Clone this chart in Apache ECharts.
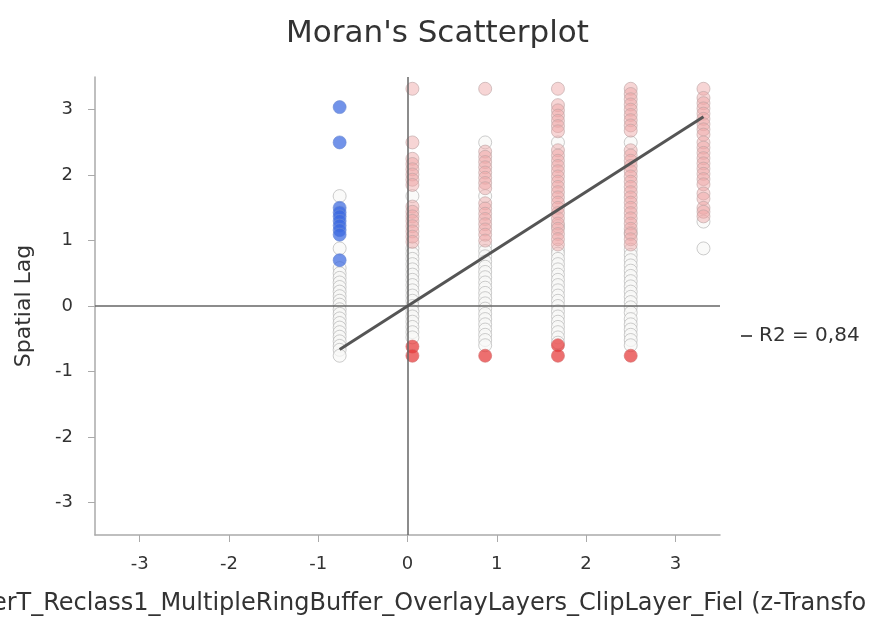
<!DOCTYPE html>
<html><head><meta charset="utf-8">
<script src="https://cdn.jsdelivr.net/npm/echarts@6/dist/echarts.min.js"></script>
<style>html,body{margin:0;padding:0;background:#fff}#c{width:875px;height:617px}</style>
</head><body><div id="c"></div>
<script>
const titleText = "Moran's Scatterplot";
const xName = "erT_Reclass1_MultipleRingBuffer_OverlayLayers_ClipLayer_Fiel (z-Transfo";
const yName = "Spatial Lag";
const legendName = "R2 = 0,84";
const xTicks = [-3, -2, -1, 0, 1, 2, 3];
const yTicks = [-3, -2, -1, 0, 1, 2, 3];
const xLevels = [-0.76, 0.055, 0.87, 1.685, 2.5, 3.315];

const notSigY = [
  [1.68, 0.88, 0.58, 0.5, 0.43, 0.36, 0.29, 0.22, 0.15, 0.08, 0.02, -0.05, -0.12, -0.19, -0.26, -0.33, -0.4, -0.47, -0.54, -0.61, -0.67, -0.76],
  [1.68, 0.88, 0.8, 0.72, 0.64, 0.56, 0.48, 0.4, 0.32, 0.24, 0.16, 0.08, 0.0, -0.08, -0.16, -0.24, -0.32, -0.4, -0.48],
  [2.5, 1.68, 0.92, 0.84, 0.76, 0.68, 0.6, 0.52, 0.44, 0.36, 0.28, 0.2, 0.12, 0.04, -0.04, -0.12, -0.2, -0.28, -0.36, -0.44, -0.52, -0.6],
  [2.5, 1.22, 0.86, 0.8, 0.72, 0.64, 0.56, 0.48, 0.4, 0.32, 0.24, 0.16, 0.08, 0.0, -0.08, -0.16, -0.24, -0.32, -0.4, -0.48, -0.56],
  [2.5, 1.12, 0.86, 0.78, 0.7, 0.62, 0.54, 0.46, 0.38, 0.3, 0.22, 0.14, 0.06, -0.02, -0.1, -0.2, -0.28, -0.36, -0.44, -0.52, -0.6],
  [1.29, 0.88]
];
const highHighY = [
  [],
  [3.32, 2.5, 2.25, 2.17, 2.09, 2.01, 1.93, 1.85, 1.52, 1.44, 1.37, 1.3, 1.22, 1.14, 1.06, 0.98],
  [3.32, 2.36, 2.28, 2.2, 2.12, 2.04, 1.96, 1.88, 1.8, 1.57, 1.49, 1.41, 1.33, 1.25, 1.17, 1.09, 1.0],
  [3.32, 3.07, 2.99, 2.91, 2.83, 2.75, 2.67, 2.38, 2.3, 2.22, 2.14, 2.06, 1.98, 1.9, 1.82, 1.74, 1.66, 1.58, 1.5, 1.42, 1.34, 1.26, 1.18, 1.1, 1.02, 0.94],
  [3.32, 3.24, 3.16, 3.08, 3.0, 2.92, 2.84, 2.76, 2.68, 2.38, 2.3, 2.22, 2.14, 2.06, 1.98, 1.9, 1.82, 1.74, 1.66, 1.58, 1.5, 1.42, 1.34, 1.26, 1.18, 1.1, 1.02, 0.94],
  [3.32, 3.18, 3.1, 3.02, 2.94, 2.86, 2.78, 2.7, 2.62, 2.5, 2.42, 2.34, 2.26, 2.18, 2.1, 2.02, 1.94, 1.86, 1.72, 1.64, 1.5, 1.44, 1.37]
];
const lowHighY = [
  [3.04, 2.5, 1.5, 1.43, 1.37, 1.3, 1.23, 1.16, 1.09, 0.7],
  [], [], [], [], []
];
const highLowY = [
  [],
  [-0.62, -0.76],
  [-0.76],
  [-0.6, -0.76],
  [-0.76],
  []
];
const regSlope = 0.873;
const regIntercept = 0.0;

function pts(cols) {
  const out = [];
  cols.forEach((ys, i) => ys.forEach(y => out.push([xLevels[i], y])));
  return out;
}
const xMinData = Math.min(...xLevels), xMaxData = Math.max(...xLevels);
const regData = [[xMinData, regIntercept + regSlope * xMinData], [xMaxData, regIntercept + regSlope * xMaxData]];

const FONT = 'DejaVu Sans';
const chart = echarts.init(document.getElementById('c'), null, {renderer: 'canvas'});
const sym = 13;
chart.setOption({
  animation: false,
  backgroundColor: '#fff',
  textStyle: {fontFamily: FONT},
  title: {text: titleText, left: 'center', top: 13,
    textStyle: {fontFamily: FONT, fontSize: 31, fontWeight: 'normal', color: '#333'}},
  legend: {data: [legendName], orient: 'vertical', left: 736, top: 321, icon: 'rect',
    itemWidth: 11, itemHeight: 2, itemGap: 5,
    textStyle: {fontFamily: FONT, fontSize: 20, color: '#333', padding: [0, 0, 0, 2]}},
  grid: {left: 95, right: 155, top: 77, bottom: 82, containLabel: false, outerBoundsMode: 'none'},
  xAxis: {type: 'value', min: -3.5, max: 3.5,
    name: xName, nameLocation: 'middle', nameGap: 57,
    nameTextStyle: {fontFamily: FONT, fontSize: 24, color: '#333', padding: [0, 0, 0, 43]},
    axisLine: {show: true, onZero: false, lineStyle: {color: '#aaa', width: 1.5}},
    axisTick: {show: true, customValues: xTicks, length: 7, lineStyle: {color: '#aaa'}},
    axisLabel: {customValues: xTicks, fontFamily: FONT, fontSize: 18, color: '#333', margin: 20},
    splitLine: {show: false}},
  yAxis: {type: 'value', min: -3.5, max: 3.5,
    name: yName, nameLocation: 'middle', nameGap: 60,
    nameTextStyle: {fontFamily: FONT, fontSize: 22, color: '#333'},
    axisLine: {show: true, onZero: false, lineStyle: {color: '#aaa', width: 1.5}},
    axisTick: {show: true, customValues: yTicks, length: 7, lineStyle: {color: '#aaa'}},
    axisLabel: {customValues: yTicks, fontFamily: FONT, fontSize: 18, color: '#333', margin: 22},
    splitLine: {show: false}},
  series: [
    {name: 'Not significant', type: 'scatter', symbolSize: sym, data: pts(notSigY), z: 2,
      itemStyle: {color: 'rgba(248,248,246,0.9)', borderColor: 'rgba(180,180,180,0.85)', borderWidth: 1},
      markLine: {silent: true, symbol: 'none', label: {show: false},
        lineStyle: {color: '#666', width: 1.5, type: 'solid'},
        data: [{xAxis: 0}, {yAxis: 0}]}},
    {name: 'High-High', type: 'scatter', symbolSize: sym, data: pts(highHighY), z: 3,
      itemStyle: {color: 'rgba(238,168,168,0.6)', borderColor: 'rgba(190,165,165,0.8)', borderWidth: 1}},
    {name: 'Low-High', type: 'scatter', symbolSize: sym, data: pts(lowHighY), z: 3,
      itemStyle: {color: 'rgba(60,105,225,0.9)', borderColor: 'rgba(110,140,210,0.8)', borderWidth: 1}},
    {name: 'High-Low', type: 'scatter', symbolSize: sym, data: pts(highLowY), z: 3,
      itemStyle: {color: 'rgba(230,55,55,0.9)', borderColor: 'rgba(210,110,110,0.8)', borderWidth: 1}},
    {name: legendName, type: 'line', data: regData, symbol: 'none', z: 5,
      lineStyle: {color: '#555', width: 3}, itemStyle: {color: '#555'}}
  ]
});
</script></body></html>
